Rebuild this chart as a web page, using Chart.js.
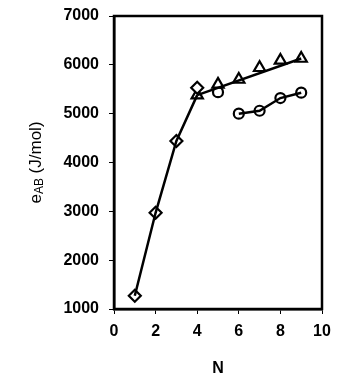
<!DOCTYPE html>
<html>
<head>
<meta charset="utf-8">
<script src="https://cdn.jsdelivr.net/npm/chart.js@4"></script>
<style>
  html, body { margin: 0; padding: 0; background: #fff; }
  #wrap { width: 355px; height: 382px; }
</style>
</head>
<body>
<div id="wrap"><canvas id="myChart" width="355" height="382"></canvas></div>
<script>
// values
let diamondN = [1, 2, 3, 4];
let diamondE = [1270, 2970, 4440, 5530];
let triangleN = [4, 5, 6, 7, 8, 9];
let triangleE = [5380, 5600, 5700, 5940, 6090, 6130];
let circleN = [5, 6, 7, 8, 9];
let circleE = [5440, 5000, 5060, 5320, 5430];

let xTicks = [0, 2, 4, 6, 8, 10];
let yTicks = [1000, 2000, 3000, 4000, 5000, 6000, 7000];

let pts = (xs, ys) => xs.map((x, i) => ({ x: x, y: ys[i] }));

// the steep line runs through the diamonds at 1-3 and meets the triangle line at N=4
let steepLine = pts(diamondN.slice(0, 3), diamondE.slice(0, 3)).concat(
  pts(triangleN.slice(0, 1), triangleE.slice(0, 1))
);
// triangle line is drawn straight, first to last triangle
let last = triangleN.length - 1;
let triLine = pts([triangleN[0], triangleN[last]], [triangleE[0], triangleE[last]]);
let circLine = pts(circleN.slice(1), circleE.slice(1));

let lineSet = (data) => ({
  data: data,
  showLine: true,
  borderColor: "#000",
  borderWidth: 2.5,
  pointRadius: 0,
  fill: false,
});
let markerSet = (data, style, r) => ({
  data: data,
  showLine: false,
  pointStyle: style,
  pointRadius: r,
  pointBackgroundColor: "#fff",
  pointBorderColor: "#000",
  pointBorderWidth: 2.2,
});

// top/right frame + y title with subscript
const frame = {
  id: "frame",
  afterDraw(chart) {
    const { ctx, chartArea: a } = chart;
    ctx.save();
    ctx.strokeStyle = "#000";
    ctx.lineWidth = 2.5;
    ctx.strokeRect(a.left, a.top, a.right - a.left, a.bottom - a.top);

    ctx.translate(36, (a.top + a.bottom) / 2);
    ctx.rotate(-Math.PI / 2);
    ctx.fillStyle = "#000";
    ctx.textBaseline = "middle";
    ctx.textAlign = "left";
    let big = "17px 'Liberation Sans', Arial, sans-serif";
    let small = "12px 'Liberation Sans', Arial, sans-serif";
    ctx.font = big;
    let w1 = ctx.measureText("e").width;
    ctx.font = small;
    let w2 = ctx.measureText("AB").width;
    ctx.font = big;
    let w3 = ctx.measureText(" (J/mol)").width;
    let x0 = -(w1 + w2 + w3) / 2;
    ctx.fillText("e", x0, 0);
    ctx.font = small;
    ctx.fillText("AB", x0 + w1, 4);
    ctx.font = big;
    ctx.fillText(" (J/mol)", x0 + w1 + w2, 0);
    ctx.restore();
  },
};

const tickFont = { family: "'Liberation Sans', Arial, sans-serif", size: 16, weight: "bold" };

new Chart(document.getElementById("myChart"), {
  type: "scatter",
  data: {
    datasets: [
      lineSet(steepLine),
      lineSet(triLine),
      lineSet(circLine),
      markerSet(pts(diamondN, diamondE), "rectRot", 6),
      markerSet(pts(triangleN, triangleE), "triangle", 6.5),
      markerSet(pts(circleN, circleE), "circle", 5),
    ],
  },
  options: {
    responsive: false,
    animation: false,
    layout: { padding: { top: 16, right: 33, left: 0, bottom: 0 } },
    plugins: { legend: { display: false }, tooltip: { enabled: false } },
    scales: {
      x: {
        type: "linear",
        min: 0,
        max: 10,
        afterBuildTicks: (s) => { s.ticks = xTicks.map((v) => ({ value: v })); },
        afterFit: (s) => { s.height = 73; },
        ticks: { color: "#000", font: tickFont, padding: 8, maxRotation: 0, callback: (v) => String(v) },
        grid: { drawOnChartArea: false, color: "#000", tickLength: 5, lineWidth: 1 },
        border: { display: true, color: "#000", width: 2.5 },
        title: {
          display: true,
          text: "N",
          color: "#000",
          font: { family: "'Liberation Sans', Arial, sans-serif", size: 16, weight: "bold" },
          padding: { top: 9 },
        },
      },
      y: {
        min: 1000,
        max: 7000,
        afterBuildTicks: (s) => { s.ticks = yTicks.map((v) => ({ value: v })); },
        afterFit: (s) => {
          s.width = 114;
          s.paddingTop = 0;
          s.paddingBottom = 0;
        },
        ticks: { color: "#000", font: tickFont, padding: 10, callback: (v) => String(v) },
        grid: { drawOnChartArea: false, color: "#000", tickLength: 5, lineWidth: 1 },
        border: { display: true, color: "#000", width: 2.5 },
      },
    },
  },
  plugins: [frame],
});
</script>
</body>
</html>
